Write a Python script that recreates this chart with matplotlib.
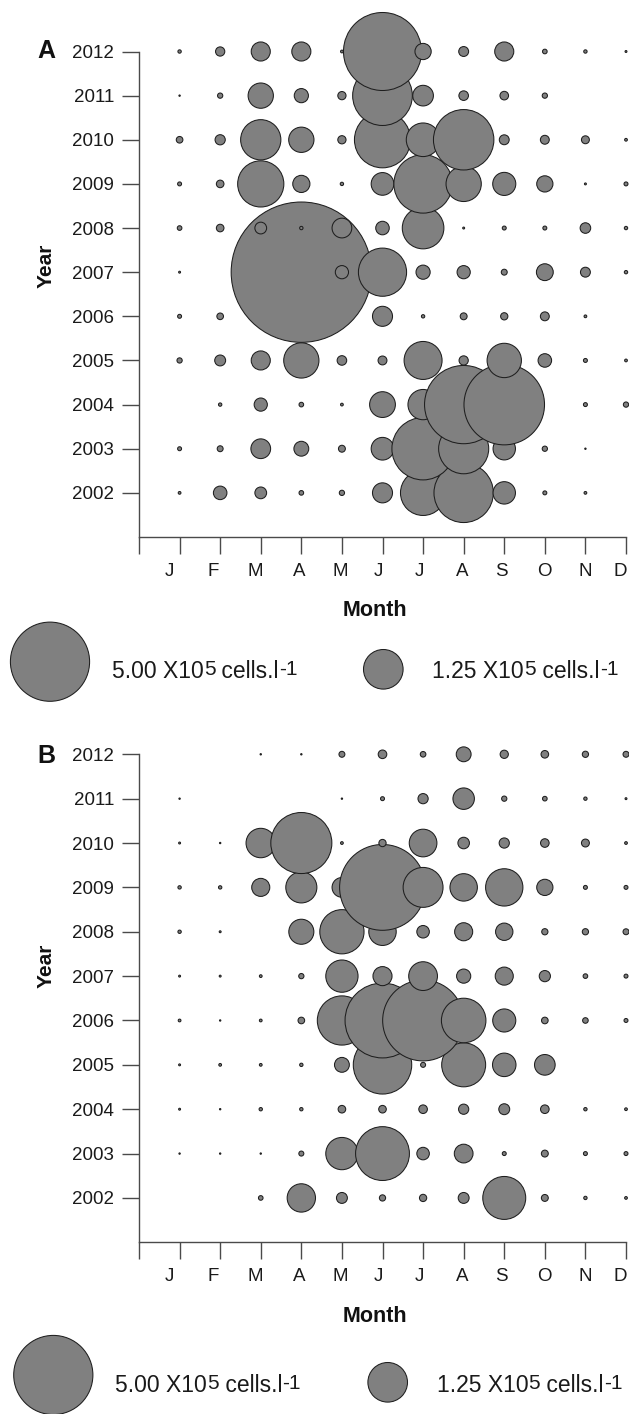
import numpy as np
import matplotlib
matplotlib.use("Agg")
import matplotlib.pyplot as plt

plt.rcParams['font.family'] = ['Liberation Sans', 'DejaVu Sans']

nan = np.nan
months = ['J', 'F', 'M', 'A', 'M', 'J', 'J', 'A', 'S', 'O', 'N', 'D']
years = [2012, 2011, 2010, 2009, 2008, 2007, 2006, 2005, 2004, 2003, 2002]

# densities in 10^5 cells/l, rows follow `years` (2012 -> 2002), columns follow `months`
density_a = [
    [0.009, 0.068, 0.29, 0.29, 0.006, 4.85, 0.21, 0.078, 0.29, 0.017, 0.009, 0.003],
    [0.0015, 0.022, 0.51, 0.16, 0.054, 2.84, 0.34, 0.073, 0.059, 0.022, nan, nan],
    [0.035, 0.083, 1.29, 0.51, 0.054, 2.51, 0.90, 2.91, 0.078, 0.063, 0.05, 0.006],
    [0.0125, 0.046, 1.70, 0.235, 0.009, 0.41, 2.72, 0.99, 0.425, 0.21, 0.003, 0.0125],
    [0.017, 0.046, 0.11, 0.009, 0.31, 0.146, 1.38, 0.003, 0.0125, 0.0125, 0.089, 0.009],
    [0.003, nan, nan, 15.7, 0.139, 1.85, 0.16, 0.139, 0.028, 0.226, 0.078, 0.009],
    [0.0125, 0.035, nan, nan, nan, 0.32, 0.009, 0.038, 0.042, 0.063, 0.006, nan],
    [0.022, 0.095, 0.29, 0.99, 0.073, 0.063, 1.15, 0.068, 0.94, 0.146, 0.0125, 0.006],
    [nan, 0.009, 0.139, 0.017, 0.006, 0.53, 0.73, 4.88, 5.17, nan, 0.0125, 0.022],
    [0.0125, 0.028, 0.31, 0.176, 0.038, 0.41, 3.10, 2.0, 0.40, 0.022, 0.0015, nan],
    [0.006, 0.146, 0.11, 0.017, 0.022, 0.32, 1.63, 2.81, 0.40, 0.0125, 0.006, nan],
]

density_b = [
    [nan, nan, 0.0015, 0.0015, 0.028, 0.059, 0.025, 0.176, 0.054, 0.046, 0.031, 0.028],
    [0.0015, nan, nan, nan, 0.0015, 0.0125, 0.083, 0.367, 0.022, 0.017, 0.009, 0.003],
    [0.003, 0.0015, 0.69, 2.97, 0.006, 0.042, 0.61, 0.106, 0.083, 0.059, 0.05, 0.006],
    [0.009, 0.009, 0.26, 0.77, 0.31, 5.87, 1.27, 0.60, 1.11, 0.21, 0.0125, 0.0125],
    [0.009, 0.003, nan, 0.50, 1.56, 0.60, 0.125, 0.26, 0.24, 0.031, 0.031, 0.028],
    [0.003, 0.003, 0.006, 0.022, 0.83, 0.29, 0.66, 0.16, 0.26, 0.10, 0.017, 0.0125],
    [0.006, 0.0015, 0.006, 0.035, 1.93, 4.47, 5.21, 1.58, 0.425, 0.035, 0.025, 0.0125],
    [0.003, 0.006, 0.006, 0.009, 0.176, 2.72, 0.02, 1.54, 0.44, 0.34, nan, nan],
    [0.003, 0.0015, 0.009, 0.009, 0.046, 0.046, 0.059, 0.083, 0.095, 0.059, 0.009, 0.006],
    [0.0015, 0.0015, 0.0015, 0.02, 0.83, 2.31, 0.125, 0.28, 0.0125, 0.038, 0.0125, 0.0125],
    [nan, nan, 0.017, 0.64, 0.095, 0.031, 0.042, 0.095, 1.47, 0.038, 0.009, 0.006],
]

legend_values = [5.00, 1.25]
legend_labels = ["5.00 X10", "1.25 X10"]

# layout: where the month letters sit along the x axis (axis units)
month_label_pos = [0.74, 1.83, 2.87, 3.95, 4.95, 5.89, 6.90, 7.97, 8.94, 10.0, 11.0, 11.87]

W, H, DPI = 629, 1414, 100
R5_PX = 39.6          # radius in px of a 5.00 x10^5 cells/l bubble
FILL = '#808080'
EDGE = '#1e1e1e'
AXC = '#4a4a4a'
TXT = '#1a1a1a'


def bubble_size(v):
    r_px = R5_PX * np.sqrt(np.asarray(v, dtype=float) / 5.0)
    return (2 * r_px * 72.0 / DPI) ** 2


fig = plt.figure(figsize=(W / DPI, H / DPI), dpi=DPI)
fig.patch.set_facecolor('white')


def panel(rect, data):
    ax = fig.add_axes(rect)
    arr = np.array(data, dtype=float)
    xs, ys, vs = [], [], []
    # draw oldest year first so later years lie on top
    for yi in range(len(years) - 1, -1, -1):
        for mi in range(len(months)):
            v = arr[yi, mi]
            if np.isnan(v):
                continue
            xs.append(mi + 1)
            ys.append(years[yi])
            vs.append(v)
    ax.scatter(xs, ys, s=bubble_size(vs), facecolor=FILL, edgecolor=EDGE,
               linewidths=0.75, clip_on=False, zorder=3)
    ax.set_xlim(0, 12)
    ax.set_ylim(2001, 2012)
    for s in ['top', 'right']:
        ax.spines[s].set_visible(False)
    for s in ['left', 'bottom']:
        ax.spines[s].set_color(AXC)
        ax.spines[s].set_linewidth(1.0)
    ax.xaxis.remove_overlapping_locs = False
    ax.set_xticks(range(13))
    ax.set_xticklabels([''] * 13)
    ax.set_xticks(month_label_pos, minor=True)
    ax.set_xticklabels(months, minor=True)
    ax.set_yticks(sorted(years))
    ax.set_yticklabels([str(y) for y in sorted(years)])
    ax.tick_params(axis='both', which='major', direction='out', length=12,
                   width=1.0, color=AXC, labelsize=13.5, labelcolor=TXT)
    ax.tick_params(axis='x', which='minor', length=0, pad=6.5 + 12,
                   labelsize=13.5, labelcolor=TXT)
    ax.tick_params(axis='y', which='major', pad=6.0)
    ax.set_facecolor('none')
    return ax


left = 139 / W
width = (626 - 139) / W
axA = panel([left, 1 - 537 / H, width, (537 - 51.5) / H], density_a)
axB = panel([left, 1 - 1242.3 / H, width, (1242.3 - 754.3) / H], density_b)

# overlay in pixel coordinates for labels and legend
ov = fig.add_axes([0, 0, 1, 1], zorder=5)
ov.set_xlim(0, W)
ov.set_ylim(H, 0)
ov.axis('off')
ov.patch.set_alpha(0)

for letter, ly, yl_y, month_y in [('A', 51, 266, 610), ('B', 756, 965.5, 1316)]:
    ov.text(46, ly, letter, ha='center', va='center', fontsize=18,
            fontweight='bold', color='#111111')
    ov.text(46, yl_y, 'Year', rotation=90, ha='center', va='center',
            fontsize=15, fontweight='bold', color='#111111')
    ov.text(375, month_y, 'Month', ha='center', va='center',
            fontsize=15.5, fontweight='bold', color='#111111')


def legend_text(x, baseline, base):
    t1 = ov.text(x, baseline, base, ha='left', va='baseline', fontsize=16.5,
                 color=TXT)
    t2 = ov.annotate('5', xy=(1, 0), xycoords=t1, xytext=(0.2, 3.0),
                     textcoords='offset points', ha='left', va='bottom',
                     fontsize=15, color=TXT, annotation_clip=False)
    t3 = ov.annotate(' cells.l', xy=(1, 0), xycoords=t2, xytext=(0, -3.0),
                     textcoords='offset points', ha='left', va='bottom',
                     fontsize=16.5, color=TXT, annotation_clip=False)
    ov.annotate('-1', xy=(1, 0), xycoords=t3, xytext=(0.3, 3.0),
                textcoords='offset points', ha='left', va='bottom',
                fontsize=15, color=TXT, annotation_clip=False)


legend_layout = [
    # (big cx, big cy, small cx, small cy, text1 x, text2 x, baseline)
    (50, 661.7, 383.3, 669.3, 111.7, 432.3, 678.3),
    (53.3, 1375, 387.7, 1382.3, 115, 436.7, 1391.7),
]
for bx, by, sx, sy, t1x, t2x, base in legend_layout:
    ov.scatter([bx, sx], [by, sy], s=bubble_size(legend_values), facecolor=FILL,
               edgecolor=EDGE, linewidths=0.75, clip_on=False)
    legend_text(t1x, base, legend_labels[0])
    legend_text(t2x, base, legend_labels[1])

fig.savefig('out.png', dpi=DPI)
